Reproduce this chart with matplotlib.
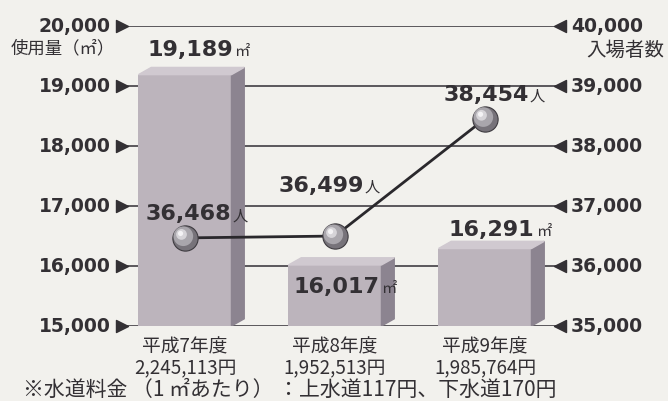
import matplotlib.pyplot as plt
import matplotlib.transforms as mtransforms
from matplotlib.patches import Polygon

JP = ['Noto Sans CJK JP', 'DejaVu Sans']

years = ['平成7年度', '平成8年度', '平成9年度']
costs = ['2,245,113円', '1,952,513円', '1,985,764円']
usage = [19189, 16017, 16291]          # 使用量 (㎡)
visitors = [36468, 36499, 38454]       # 入場者数 (人)
left_ticks = [15000, 16000, 17000, 18000, 19000, 20000]
right_ticks = [35000, 36000, 37000, 38000, 39000, 40000]
note = '※水道料金 （1 ㎡あたり） ：上水道117円、下水道170円'

bg = '#f2f1ed'
ink = '#333034'
bar_front = '#bcb4bc'
bar_top = '#d0c9d0'
bar_side = '#8c8490'

fig = plt.figure(figsize=(6.68, 4.02), dpi=100, facecolor=bg)
ax = fig.add_axes([0.1826, 0.1866, 0.6557, 0.7463])
ax.set_facecolor(bg)
ax.set_xlim(-0.42, 2.5)
ax.set_ylim(15000, 20000)
ax.axis('off')

ax2 = ax.twinx()
ax2.set_ylim(35000, 40000)
ax2.axis('off')

# grid lines with triangle pointers
for t in left_ticks:
    ax.axhline(t, color='#5a575c', lw=1.4, zorder=1)
ax.scatter([0] * len(left_ticks), left_ticks, marker='>', s=75, color=ink,
           transform=ax.get_yaxis_transform(), clip_on=False, zorder=3)
ax.scatter([1] * len(left_ticks), left_ticks, marker='<', s=75, color=ink,
           transform=ax.get_yaxis_transform(), clip_on=False, zorder=3)
for t in left_ticks:
    ax.annotate(f'{t:,}', (0, t), xycoords=ax.get_yaxis_transform(),
                xytext=(-8, 0), textcoords='offset points', ha='right', va='center',
                fontsize=13.5, fontweight='bold', color=ink, family='DejaVu Sans')
for t in right_ticks:
    ax2.annotate(f'{t:,}', (1, t), xycoords=ax2.get_yaxis_transform(),
                 xytext=(8, 0), textcoords='offset points', ha='left', va='center',
                 fontsize=13.5, fontweight='bold', color=ink, family='DejaVu Sans')

fig.text(0.016, 0.879, '使用量（㎡）', ha='left', va='center',
         fontsize=12.5, color=ink, family=JP)
fig.text(0.995, 0.875, '入場者数', ha='right', va='center',
         fontsize=14, color=ink, family=JP)

# 3D-looking bars
w = 0.62
dx, dy = 0.085, 120
for i, v in enumerate(usage):
    x0 = i - w / 2
    ax.bar(i, v - 15000, bottom=15000, width=w, color=bar_front, zorder=2)
    ax.add_patch(Polygon([(x0 + w, 15000), (x0 + w + dx, 15000 + dy),
                          (x0 + w + dx, v + dy), (x0 + w, v)],
                         closed=True, color=bar_side, zorder=2))
    ax.add_patch(Polygon([(x0, v), (x0 + dx, v + dy), (x0 + w + dx, v + dy), (x0 + w, v)],
                         closed=True, color=bar_top, zorder=2))

# 入場者数 line with shaded balls
ax2.plot(range(3), visitors, color='#2a282c', lw=2, zorder=4)
ax2.scatter(range(3), visitors, s=330, color='#77737a', edgecolor='#3e3b40',
            lw=0.8, zorder=5)
shift1 = mtransforms.offset_copy(ax2.transData, fig=fig, x=-1.2, y=1.2, units='points')
ax2.scatter(range(3), visitors, s=200, color='#a9a6ac', edgecolor='none',
            zorder=6, transform=shift1)
shift2 = mtransforms.offset_copy(ax2.transData, fig=fig, x=-2.5, y=2.5, units='points')
ax2.scatter(range(3), visitors, s=60, color='#d6d4d8', edgecolor='none',
            zorder=7, transform=shift2)
shift3 = mtransforms.offset_copy(ax2.transData, fig=fig, x=-3.2, y=3.2, units='points')
ax2.scatter(range(3), visitors, s=14, color='#f4f3f5', edgecolor='none',
            zorder=8, transform=shift3)

# value labels (number + unit)
def label(a, x, y, num, unit):
    a.annotate(num, (x, y), ha='right', va='center', fontsize=16, fontweight='bold',
               color=ink, family='DejaVu Sans', zorder=9)
    a.annotate(unit, (x, y), xytext=(1, -1), textcoords='offset points',
               ha='left', va='center', fontsize=11, color=ink, family=JP, zorder=9)

label(ax, 0.32, 19620, '19,189', '㎡')
label(ax, 1.30, 15670, '16,017', '㎡')
label(ax, 2.33, 16620, '16,291', '㎡')
label(ax2, 0.31, 36880, '36,468', '人')
label(ax2, 1.19, 37350, '36,499', '人')
label(ax2, 2.29, 38870, '38,454', '人')

for i in range(3):
    ax.annotate(years[i], (i, 15000), xytext=(0, -14.5), textcoords='offset points',
                ha='center', va='center', fontsize=13.5, color=ink, family=JP)
    ax.annotate(costs[i], (i, 15000), xytext=(0, -30), textcoords='offset points',
                ha='center', va='center', fontsize=13.5, color=ink, family=JP)

fig.text(0.035, 0.03, note, ha='left', va='center', fontsize=15, color=ink, family=JP)

fig.savefig('out.png', dpi=100, facecolor=bg)
